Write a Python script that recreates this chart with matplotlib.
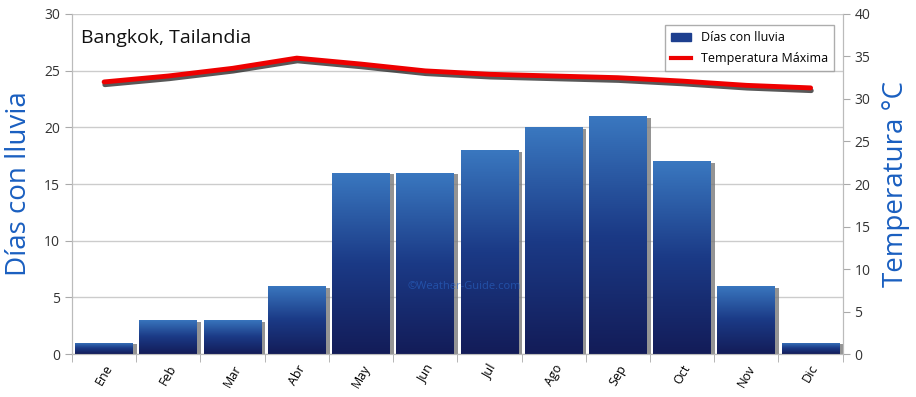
import matplotlib
matplotlib.use("Agg")
import matplotlib.pyplot as plt
import numpy as np
from matplotlib.lines import Line2D
from matplotlib.patches import Patch
import matplotlib.patheffects as pe
from matplotlib.colors import LinearSegmentedColormap

months = ["Ene", "Feb", "Mar", "Abr", "May", "Jun", "Jul", "Ago", "Sep", "Oct", "Nov", "Dic"]
rain_days = [1, 3, 3, 6, 16, 16, 18, 20, 21, 17, 6, 1]
temp_max = [32.0, 32.7, 33.6, 34.8, 34.1, 33.3, 32.9, 32.7, 32.5, 32.1, 31.6, 31.3]

plt.rcParams['font.family'] = ['Open Sans', 'DejaVu Sans']

fig = plt.figure(figsize=(9.16, 3.97), dpi=100)
ax = fig.add_axes([0.0786, 0.108, 0.8414, 0.857])
ax2 = ax.twinx()
ax.set_zorder(1)
ax2.set_zorder(2)
ax.patch.set_visible(False)

x = np.arange(len(months))
w = 0.9

grad = np.linspace(0, 1, 256).reshape(-1, 1)
cmap = LinearSegmentedColormap.from_list("b", ["#131c58", "#1b3a86", "#3a78c0"])

for xi, v in zip(x, rain_days):
    ax.bar(xi + 0.06, v - 0.15, width=w, bottom=0, color="#7a7a7a", alpha=0.8, zorder=2)
    b = ax.bar(xi, v, width=w, color="#1d3f8f", zorder=3)[0]
    im = ax.imshow(grad, cmap=cmap, aspect="auto", origin="lower",
                   extent=[xi - w / 2, xi + w / 2, 0, v], zorder=3.5)
    im.set_clip_path(b)

ax.set_xlim(-0.5, 11.5)
ax.set_ylim(0, 30)
ax2.set_ylim(0, 40)

ax.set_yticks(range(0, 31, 5))
ax.grid(axis="y", color="#cccccc", linewidth=1)
ax.set_axisbelow(True)
ax.set_xticks(x)
ax.set_xticklabels(months, rotation=60, fontsize=9)
ax.set_xticks(np.arange(-0.5, 12, 1), minor=True)
ax.tick_params(axis="x", which="major", length=0, pad=6)
ax.tick_params(axis="x", which="minor", length=6, color="#aaaaaa")
ax.tick_params(axis="y", length=5, color="#aaaaaa", labelsize=10, colors="#333333")
ax2.set_yticks(range(0, 41, 5))
ax2.tick_params(axis="y", length=5, color="#aaaaaa", labelsize=10, colors="#333333")
for a in (ax, ax2):
    a.spines["top"].set_visible(False)
    a.spines["left"].set_color("#bbbbbb")
    a.spines["right"].set_color("#bbbbbb")
    a.spines["bottom"].set_color("#bbbbbb")

ax2.plot(x, temp_max, color="#ee0000", linewidth=3.5, solid_joinstyle="round",
         solid_capstyle="round",
         path_effects=[pe.SimpleLineShadow(offset=(0.5, -2), shadow_color="#111111", alpha=0.7),
                       pe.Normal()], zorder=5)

ax.set_ylabel("Días con lluvia", color="#1a5fc0", fontsize=20, labelpad=8)
ax2.set_ylabel("Temperatura °C", color="#1a5fc0", fontsize=20, labelpad=8)

ax.text(0.012, 0.93, "Bangkok, Tailandia", transform=ax.transAxes, fontsize=14,
        color="#111111", va="center", ha="left", zorder=10)

ax.text(5.6, 6.0, "©Weather-Guide.com", fontsize=8, color="#2a66c8", alpha=0.6,
        ha="center", va="center", zorder=6)

handles = [Patch(facecolor="#1d3f8f", edgecolor="#1d3f8f"),
           Line2D([0], [0], color="#ee0000", linewidth=3)]
leg = ax2.legend(handles, ["Días con lluvia", "Temperatura Máxima"], loc="upper right",
                 bbox_to_anchor=(0.997, 0.985), fontsize=9, frameon=True, fancybox=False,
                 edgecolor="#999999", handlelength=1.6, borderpad=0.5, labelspacing=0.6)
leg.get_frame().set_linewidth(1)

fig.savefig("out.png", dpi=100)
